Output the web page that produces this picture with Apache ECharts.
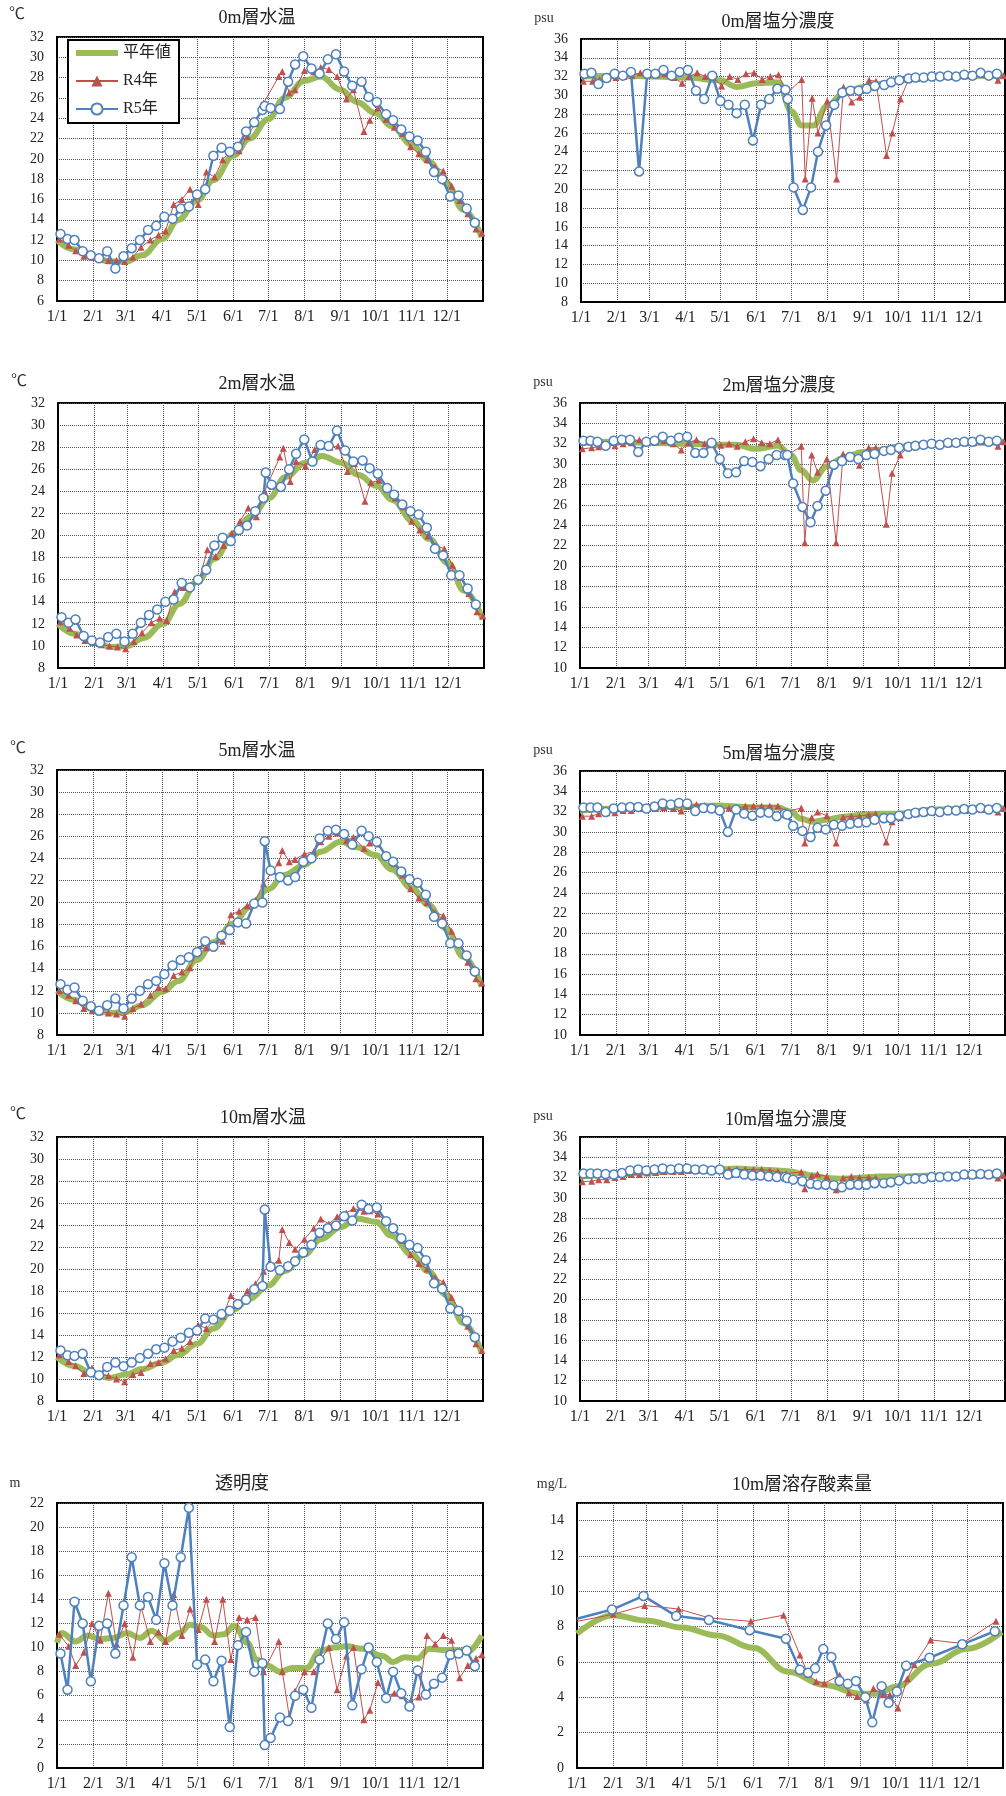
<!DOCTYPE html>
<html><head><meta charset="utf-8">
<script src="https://cdn.jsdelivr.net/npm/echarts/dist/echarts.min.js"></script>
<style>html,body{margin:0;padding:0;background:#fff;}#c{width:1006px;height:1796px;}</style>
</head><body><div id="c"></div>
<script>
// ---------- tick labels ----------
const monthLabels = ['1/1','2/1','3/1','4/1','5/1','6/1','7/1','8/1','9/1','10/1','11/1','12/1'];
const seriesNames = ['平年値','R4年','R5年'];

// ---------- sampling dates ----------
const r5Dates = ['1/4','1/10','1/16','1/23','1/30','2/6','2/13','2/20','2/27','3/6','3/13','3/20','3/27','4/3','4/10','4/17','4/24','5/1','5/8','5/15','5/22','5/29','6/5','6/12','6/19','6/26','6/28','7/3','7/11','7/18','7/24','7/31','8/7','8/14','8/21','8/28','9/4','9/11','9/19','9/25','10/2','10/10','10/16','10/23','10/30','11/6','11/13','11/20','11/27','12/4','12/11','12/18','12/25'];
const r4Dates = ['1/3','1/11','1/17','1/24','1/31','2/7','2/14','2/21','2/28','3/7','3/14','3/22','3/29','4/4','4/11','4/18','4/25','5/2','5/9','5/16','5/23','5/30','6/6','6/13','6/20','6/27','7/10','7/13','7/19','7/24','8/1','8/9','8/15','8/22','8/29','9/6','9/12','9/21','9/26','10/3','10/10','10/17','10/24','10/31','11/7','11/14','11/21','11/28','12/5','12/12','12/19','12/26','12/31'];
const tNormDates = ['1/1','1/15','2/1','2/15','3/1','3/15','4/1','4/15','5/1','5/15','6/1','6/15','7/1','7/15','8/1','8/15','9/1','9/15','10/1','10/15','11/1','11/15','12/1','12/15','12/31'];
const sNormDates = ['1/1','2/1','3/1','4/1','5/1','5/15','6/1','6/20','7/1','7/10','7/20','8/1','8/15','9/1','9/15','10/1','11/1','12/1','12/31'];
const trNormDates = ['1/1','1/5','1/17','1/27','2/7','2/18','3/2','3/13','3/23','4/4','4/16','4/25','5/4','5/15','5/24','6/2','6/13','6/21','6/30','7/11','7/22','8/3','8/14','8/26','9/6','9/20','10/7','10/16','10/26','11/6','11/16','11/28','12/8','12/18','12/31'];
const doNormDates = ['1/1','2/1','3/1','4/1','5/1','6/1','7/1','8/1','9/1','9/15','10/1','11/1','12/1','12/31'];
const doR4Dates = ['1/1','2/1','2/28','3/29','4/24','5/30','6/27','7/11','7/18','7/25','8/1','8/14','8/22','8/29','9/6','9/12','9/20','9/26','10/3','10/11','10/17','10/31','11/27','12/26'];
const doR5Dates = ['1/1','1/31','2/27','3/27','4/24','5/29','6/29','7/11','7/18','7/24','7/31','8/7','8/14','8/21','8/28','9/5','9/11','9/19','9/25','10/2','10/10','10/30','11/27','12/25'];

// ---------- 0m ----------
const t0Norm = [12.0,11.1,10.3,9.9,9.9,10.5,12.1,14.0,15.9,17.9,20.3,22.0,23.9,26.0,27.7,28.1,26.8,25.6,24.5,23.2,21.4,19.8,17.6,15.0,12.3];
const t0R4 = [12.1,11.5,10.95,10.4,10.3,10.1,10.0,10.0,9.9,10.3,11.3,12.0,12.5,12.9,15.5,16.0,17.0,15.5,18.7,18.2,19.9,20.9,20.8,22.2,23.5,25.5,28.1,28.6,26.5,26.8,28.7,28.6,29.0,28.8,28.1,25.9,26.8,22.7,23.8,25.0,23.9,23.1,22.5,21.2,20.5,19.9,19.2,18.8,17.3,15.9,14.6,13.1,12.7];
const t0R5 = [12.6,12.1,12.0,10.9,10.5,10.2,10.9,9.2,10.4,11.2,12.0,13.0,13.4,14.3,14.1,15.1,15.3,16.5,17.0,20.3,21.1,20.7,21.2,22.7,23.6,24.8,25.2,25.0,24.9,27.6,29.3,30.1,28.9,28.4,29.8,30.3,28.6,27.2,27.6,26.1,25.6,24.4,23.8,22.9,22.2,21.8,20.7,18.7,18.0,16.3,16.4,15.1,13.7];
const s0Norm = [32.0,32.1,32.0,31.9,31.6,30.9,31.3,31.4,28.3,26.8,26.8,28.9,30.2,30.9,31.2,31.6,32.0,32.1,32.1];
const s0R4 = [31.5,31.5,31.7,31.8,31.9,32.0,32.1,32.4,32.2,32.2,32.3,31.9,31.3,32.0,32.4,32.0,31.9,31.0,32.0,31.7,32.3,32.4,31.7,32.0,32.2,30.2,31.7,21.1,29.7,26.0,29.4,21.1,30.9,29.3,29.8,31.6,31.5,23.6,26.0,29.6,31.7,31.8,31.9,32.0,32.0,32.0,32.1,32.1,32.1,32.2,32.2,31.6,32.1];
const s0R5 = [32.3,32.4,31.2,31.85,32.3,32.1,32.5,21.9,32.3,32.3,32.7,32.1,32.5,32.7,30.5,29.6,32.1,29.4,29.0,28.1,29.0,25.2,29.0,29.6,30.7,30.6,29.6,20.2,17.8,20.2,24.0,26.8,29.0,30.3,30.5,30.5,30.7,31.0,31.1,31.4,31.6,31.8,31.9,31.9,32.0,32.0,32.1,32.0,32.2,32.1,32.4,32.1,32.3];
// ---------- 2m ----------
const t2Norm = [12.0,11.1,10.4,9.9,10.0,10.7,12.0,13.8,15.9,17.9,20.2,21.7,23.4,25.3,26.6,27.2,26.6,25.5,24.5,23.2,21.3,19.7,17.5,15.0,12.4];
const t2R4 = [12.2,11.6,11.0,10.5,10.3,10.1,10.0,9.9,9.75,10.4,11.2,12.1,12.5,12.3,14.9,15.3,15.5,16.0,18.7,18.1,19.1,20.2,21.3,22.5,21.7,24.0,27.1,27.9,24.9,26.7,26.3,27.8,28.1,28.0,28.1,25.8,26.5,23.1,24.8,25.0,24.2,23.4,22.6,21.3,20.5,19.95,19.1,18.8,17.3,16.2,14.75,13.1,12.7];
const t2R5 = [12.6,12.1,12.4,10.9,10.5,10.3,10.8,11.1,10.4,11.1,12.1,12.8,13.3,14.0,14.2,15.7,15.3,16.0,16.9,19.1,19.8,19.5,20.5,20.9,22.2,23.4,25.7,24.6,24.4,26.0,27.4,28.7,26.7,28.2,28.1,29.5,27.7,26.7,26.8,26.1,25.6,24.3,23.7,22.8,22.2,21.9,20.7,18.8,18.2,16.4,16.4,15.2,13.75];
const s2Norm = [32.1,32.2,32.1,32.0,31.9,31.9,31.5,31.8,30.9,29.4,28.4,29.8,30.6,31.2,31.4,31.7,32.0,32.1,32.2];
const s2R4 = [31.5,31.6,31.7,31.9,31.8,32.0,32.1,32.4,32.1,32.2,32.3,32.0,31.4,32.1,32.4,32.0,31.9,31.85,32.0,31.75,32.2,32.5,32.1,32.0,32.4,30.8,31.75,22.3,30.9,29.2,30.5,22.3,31.0,30.7,29.9,31.6,31.6,24.1,29.1,30.9,31.7,31.8,31.9,32.0,32.0,32.0,32.1,32.1,32.1,32.2,32.2,31.75,32.2];
const s2R5 = [32.3,32.3,32.2,31.8,32.3,32.4,32.4,31.2,32.2,32.3,32.7,32.3,32.6,32.7,31.1,31.1,32.1,30.5,29.1,29.2,30.3,30.2,29.8,30.5,30.9,30.9,30.9,28.1,25.8,24.3,25.9,27.4,29.95,30.3,30.7,30.5,30.9,31.0,31.3,31.4,31.6,31.7,31.8,31.9,32.0,31.9,32.1,32.1,32.2,32.2,32.4,32.2,32.3];
// ---------- 5m ----------
const t5Norm = [12.0,11.2,10.4,10.0,10.1,10.7,11.9,12.9,14.8,16.4,18.1,19.6,21.2,22.5,23.4,24.6,25.5,25.0,24.3,23.0,21.3,19.8,17.6,15.1,12.4];
const t5R4 = [12.0,11.6,11.1,10.4,10.2,10.1,10.0,9.9,9.7,10.4,10.8,11.6,12.3,12.2,13.4,13.7,14.1,15.8,15.9,16.2,16.5,18.9,19.2,19.7,20.2,21.7,23.6,24.7,23.7,23.9,24.4,24.6,25.5,26.0,26.3,25.6,25.9,24.9,25.4,25.3,24.2,23.5,22.5,21.25,20.4,20.0,19.1,18.8,17.4,16.2,14.6,13.1,12.7];
const t5R5 = [12.6,12.1,12.3,11.1,10.6,10.2,10.7,11.3,10.4,11.3,12.0,12.6,12.9,13.5,14.3,14.8,15.05,15.5,16.5,16.0,17.0,17.5,18.2,18.1,19.9,20.0,25.55,22.9,22.3,22.0,22.3,23.7,24.0,25.8,26.5,26.6,26.2,25.25,26.5,26.0,25.5,24.2,23.7,22.8,22.1,21.8,20.7,18.7,18.1,16.3,16.3,15.2,13.75];
const s5Norm = [32.1,32.3,32.4,32.5,32.6,32.5,32.4,32.4,32.0,31.3,31.0,31.2,31.5,31.7,31.8,31.8,32.2,32.3,32.3];
const s5R4 = [31.55,31.55,31.8,31.9,31.9,32.1,32.1,32.3,32.3,32.3,32.4,32.3,32.05,32.5,32.7,32.6,32.5,32.3,32.35,32.2,32.55,32.55,32.55,32.55,32.55,32.0,32.35,28.9,31.4,31.95,31.6,28.9,31.45,31.55,31.55,31.7,31.8,29.0,31.0,31.4,31.7,31.8,31.9,32.0,32.0,32.1,32.1,32.1,32.2,32.2,32.3,31.95,32.3];
const s5R5 = [32.4,32.4,32.4,31.95,32.3,32.4,32.45,32.45,32.3,32.5,32.8,32.7,32.85,32.8,32.05,32.35,32.3,32.1,30.0,32.2,31.8,31.6,31.9,31.9,31.55,31.8,31.7,30.6,30.1,29.5,30.4,30.25,30.7,30.6,30.8,30.9,30.95,31.2,31.35,31.35,31.6,31.75,31.9,31.95,32.05,31.95,32.1,32.1,32.25,32.2,32.35,32.2,32.35];
// ---------- 10m ----------
const t10Norm = [12.0,11.2,10.5,10.1,10.4,10.9,11.5,12.2,13.2,14.6,16.3,17.3,18.5,19.8,21.3,22.7,23.8,24.6,24.3,23.0,21.3,19.8,17.6,15.1,12.4];
const t10R4 = [12.2,11.6,11.2,10.5,11.0,10.4,10.3,10.0,9.75,10.4,10.6,11.4,11.5,11.85,12.6,12.8,13.4,14.9,14.6,15.4,15.7,17.6,17.0,18.0,18.65,19.8,20.8,23.6,22.4,21.8,22.7,23.7,24.55,24.1,24.75,25.1,25.5,25.25,25.3,25.0,24.3,23.6,22.6,21.3,20.5,20.0,19.2,18.8,17.4,16.3,14.8,13.2,12.6];
const t10R5 = [12.6,12.15,12.1,12.3,10.6,10.35,11.1,11.5,11.15,11.5,11.9,12.3,12.7,12.85,13.4,13.75,14.2,14.4,15.5,15.4,15.9,16.2,16.8,17.2,18.15,18.45,25.4,20.2,19.9,20.25,20.7,21.5,22.2,23.3,23.7,23.95,24.8,24.4,25.85,25.45,25.6,24.35,23.7,22.8,22.2,21.9,20.8,18.7,18.2,16.4,16.2,15.3,13.8];
const s10Norm = [32.1,32.3,32.5,32.7,32.8,32.9,32.8,32.7,32.6,32.4,32.2,31.95,31.9,32.0,32.1,32.1,32.2,32.2,32.2];
const s10R4 = [31.6,31.65,31.8,31.8,32.0,32.1,32.3,32.3,32.45,32.5,32.6,32.6,32.6,32.7,32.7,32.7,32.7,32.7,32.8,32.8,32.8,32.8,32.8,32.7,32.6,32.4,32.55,30.9,32.2,32.35,32.1,30.8,31.95,32.1,32.0,32.0,31.95,31.6,31.7,31.8,31.9,32.0,32.0,32.1,32.1,32.1,32.2,32.2,32.2,32.3,32.3,31.95,32.2];
const s10R5 = [32.4,32.4,32.4,32.35,32.3,32.45,32.7,32.8,32.7,32.8,32.9,32.8,32.9,32.9,32.8,32.8,32.7,32.8,32.3,32.45,32.3,32.2,32.2,32.1,32.05,32.05,31.95,31.8,31.65,31.4,31.3,31.3,31.25,31.05,31.3,31.3,31.3,31.45,31.45,31.55,31.7,31.85,31.9,31.9,32.05,32.05,32.1,32.1,32.3,32.3,32.35,32.3,32.4];
// ---------- transparency ----------
const trNorm = [10.4,11.2,10.5,11.0,10.7,10.8,11.2,10.8,11.4,10.6,11.2,11.9,11.7,11.0,11.1,11.8,10.4,9.0,8.5,8.0,8.3,8.3,9.7,10.0,10.1,9.9,9.3,8.8,9.2,9.1,9.9,9.8,9.8,9.6,11.0];
const trR4 = [11.1,10.1,8.5,9.6,12.0,10.6,14.5,10.3,12.0,9.2,13.4,10.5,11.3,10.5,14.4,11.0,13.2,11.5,14.0,10.5,14.0,9.0,12.5,12.3,12.5,8.0,10.5,8.0,4.3,6.4,8.0,8.0,9.0,10.0,6.5,9.3,10.0,4.0,4.8,7.1,6.0,6.2,6.0,5.5,5.9,11.0,10.3,11.0,10.6,7.5,8.5,9.1,9.4];
const trR5 = [9.5,6.5,13.8,12.0,7.2,11.8,12.0,9.5,13.5,17.5,13.5,14.2,12.3,17.0,13.5,17.5,21.6,8.6,9.0,7.2,8.9,3.4,10.2,11.3,8.0,8.7,1.9,2.5,4.2,3.9,6.0,6.5,5.0,9.0,12.0,10.7,12.1,5.2,8.2,10.0,8.8,5.8,8.0,6.2,5.1,8.1,6.1,7.0,7.5,9.4,9.5,9.75,8.45];
// ---------- dissolved oxygen 10m ----------
const doNorm = [7.6,8.65,8.35,7.95,7.5,6.8,5.45,4.7,4.2,4.2,4.6,5.9,6.75,7.7];
const doR4 = [8.3,8.7,9.2,9.0,8.5,8.3,8.65,6.4,5.3,4.9,4.8,5.25,4.25,4.05,3.85,4.5,4.15,4.15,3.4,5.05,5.85,7.25,7.05,8.3];
const doR5 = [8.45,8.97,9.74,8.6,8.38,7.8,7.32,5.56,5.39,5.64,6.73,6.28,4.92,4.77,4.92,4.01,2.59,4.63,3.69,4.33,5.79,6.24,7.0,7.74];

// ---------- helpers ----------
const SERIF = "'Liberation Serif','DejaVu Serif',serif";
const MIX = "'Liberation Serif','Noto Sans CJK JP',sans-serif";
function dayIndex(md){ const p = md.split('/'); return Math.round((Date.UTC(2023, +p[0]-1, +p[1]) - Date.UTC(2023,0,1)) / 86400000); }
const dayCats = [];
for (let i = 0; i <= 365; i++) { const dt = new Date(Date.UTC(2023,0,1+i)); dayCats.push(i === 365 ? 'end' : (dt.getUTCMonth()+1) + '/' + dt.getUTCDate()); }
const monthIdx = monthLabels.map(dayIndex);
const isMonth = (idx) => monthIdx.indexOf(idx) >= 0;
function pts(dates, vals, hideFirst){
  return dates.map((d,k) => hideFirst && k === 0 ? {value:[dayIndex(d), vals[k]], symbol:'none'} : [dayIndex(d), vals[k]]);
}

const panels = [
 {title:'0m層水温', unit:'℃', grid:[57,37,426,264], y:[6,32], tc:[257,18], uc:[17,15], n:[tNormDates,t0Norm], a:[r4Dates,t0R4], b:[r5Dates,t0R5]},
 {title:'0m層塩分濃度', unit:'psu', grid:[581,39,424,263], y:[8,36], tc:[778,22], uc:[544,18], n:[sNormDates,s0Norm], a:[r4Dates,s0R4], b:[r5Dates,s0R5]},
 {title:'2m層水温', unit:'℃', grid:[58,403,426,265], y:[8,32], tc:[257,384], uc:[19,382], n:[tNormDates,t2Norm], a:[r4Dates,t2R4], b:[r5Dates,t2R5]},
 {title:'2m層塩分濃度', unit:'psu', grid:[580,403,425,265], y:[10,36], tc:[779,386], uc:[543,382], n:[sNormDates,s2Norm], a:[r4Dates,s2R4], b:[r5Dates,s2R5]},
 {title:'5m層水温', unit:'℃', grid:[57,770,426,265], y:[8,32], tc:[257,751], uc:[18,749], n:[tNormDates,t5Norm], a:[r4Dates,t5R4], b:[r5Dates,t5R5]},
 {title:'5m層塩分濃度', unit:'psu', grid:[580,771,425,264], y:[10,36], tc:[779,754], uc:[543,750], n:[sNormDates,s5Norm], a:[r4Dates,s5R4], b:[r5Dates,s5R5]},
 {title:'10m層水温', unit:'℃', grid:[57,1137,426,264], y:[8,32], tc:[263,1118], uc:[18,1115], n:[tNormDates,t10Norm], a:[r4Dates,t10R4], b:[r5Dates,t10R5]},
 {title:'10m層塩分濃度', unit:'psu', grid:[580,1137,425,264], y:[10,36], tc:[786,1120], uc:[543,1116], n:[sNormDates,s10Norm], a:[r4Dates,s10R4], b:[r5Dates,s10R5]},
 {title:'透明度', unit:'m', grid:[57,1503,426,265], y:[0,22], tc:[242,1484], uc:[15,1483], n:[trNormDates,trNorm], a:[r4Dates,trR4], b:[r5Dates,trR5]},
 {title:'10m層溶存酸素量', unit:'mg/L', grid:[577,1503,426,265], y:[0,15], tc:[802,1485], uc:[552,1484], n:[doNormDates,doNorm], a:[doR4Dates,doR4], b:[doR5Dates,doR5], hideFirst:true, hideMax:true}
];

const grids = [], xAxes = [], yAxes = [], series = [], graphics = [];
const gridLine = {show:true, lineStyle:{color:'#555', type:'dotted', width:1}};
panels.forEach((p,i) => {
  grids.push({left:p.grid[0], top:p.grid[1], width:p.grid[2], height:p.grid[3], show:true, borderColor:'#000', borderWidth:2, backgroundColor:'#fff', containLabel:false});
  xAxes.push({type:'category', gridIndex:i, data:dayCats, boundaryGap:false,
    axisLine:{show:true, onZero:false, lineStyle:{color:'#000', width:2}},
    axisTick:{show:false},
    axisLabel:{interval:(idx)=>isMonth(idx), fontSize:16, fontFamily:SERIF, color:'#222', margin:8, formatter:(v)=>v},
    splitLine:Object.assign({interval:(idx)=>isMonth(idx) && idx > 0}, gridLine)});
  yAxes.push({type:'value', gridIndex:i, min:p.y[0], max:p.y[1], interval:2,
    axisLine:{show:true, lineStyle:{color:'#000', width:2}},
    axisTick:{show:false},
    axisLabel:{fontSize:14, fontFamily:SERIF, color:'#222', margin:13, showMaxLabel: p.hideMax ? false : true},
    splitLine:gridLine});
  series.push({type:'line', name:seriesNames[0], xAxisIndex:i, yAxisIndex:i, data:pts(p.n[0], p.n[1], false),
    smooth:0.4, smoothMonotone:'x', symbol:'none', showSymbol:false, lineStyle:{color:'#9BBB59', width:6}, itemStyle:{color:'#9BBB59'}, z:2, animation:false});
  series.push({type:'line', name:seriesNames[1], xAxisIndex:i, yAxisIndex:i, data:pts(p.a[0], p.a[1], p.hideFirst),
    symbol:'triangle', symbolSize:7, showAllSymbol:true, lineStyle:{color:'#C0504D', width:1}, itemStyle:{color:'#C0504D'}, z:3, animation:false});
  series.push({type:'line', name:seriesNames[2], xAxisIndex:i, yAxisIndex:i, data:pts(p.b[0], p.b[1], p.hideFirst),
    symbol:'circle', symbolSize:9, showAllSymbol:true, lineStyle:{color:'#4F81BD', width:2.5}, itemStyle:{color:'#fff', borderColor:'#4F81BD', borderWidth:1.5}, z:4, animation:false});
  graphics.push({type:'text', x:p.tc[0], y:p.tc[1], silent:true, style:{text:p.title, font:"18px 'Liberation Serif','Noto Sans CJK JP',sans-serif", fill:'#222', textAlign:'center', textVerticalAlign:'middle', align:'center', verticalAlign:'middle'}});
  const uSize = p.unit === '℃' ? 16 : 14;
  graphics.push({type:'text', x:p.uc[0], y:p.uc[1], silent:true, style:{text:p.unit, font:uSize + "px 'Liberation Serif','Noto Sans CJK JP',serif", fill:'#333', textAlign:'center', textVerticalAlign:'middle', align:'center', verticalAlign:'middle'}});
});

const chart = echarts.init(document.getElementById('c'), null, {renderer:'canvas', width:1006, height:1796});
chart.setOption({
  animation:false,
  backgroundColor:'#fff',
  grid:grids, xAxis:xAxes, yAxis:yAxes, series:series,
  legend:{data:[
      {name:seriesNames[0], itemStyle:{color:'rgba(0,0,0,0)', borderColor:'rgba(0,0,0,0)', borderWidth:0}, lineStyle:{color:'#9BBB59', width:6}},
      {name:seriesNames[1]},
      {name:seriesNames[2]}],
    orient:'vertical', left:68, top:40, itemWidth:42, itemHeight:14, itemGap:12,
    padding:[5,8,6,5], backgroundColor:'#fff', borderColor:'#000', borderWidth:2, borderRadius:0,
    textStyle:{fontSize:16, fontFamily:MIX, color:'#222', lineHeight:16}, selectedMode:false, z:10},
  graphic:graphics
});
</script></body></html>
